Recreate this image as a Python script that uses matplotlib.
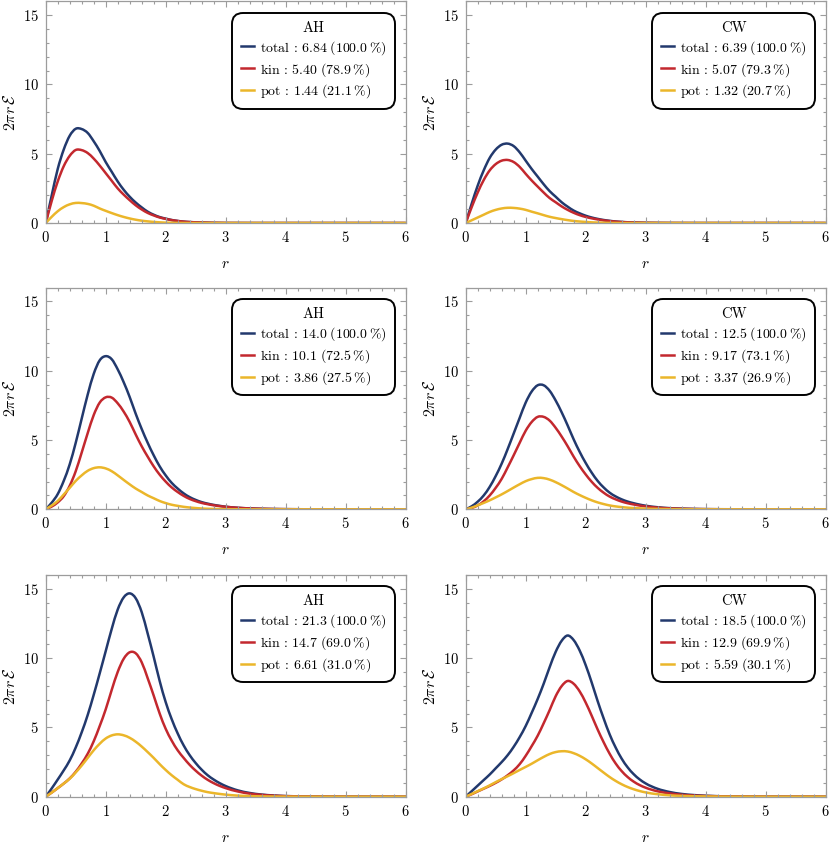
"""
Radial energy density profiles, AH vs CW.
"""

import matplotlib

matplotlib.use("Agg")

import matplotlib.pyplot as plt
import numpy as np
from matplotlib.lines import Line2D
from matplotlib.patches import PathPatch
from matplotlib.path import Path
from matplotlib.ticker import MultipleLocator


plt.rcParams["font.family"] = "cmr10"
plt.rcParams["mathtext.fontset"] = "cm"
plt.rcParams["axes.formatter.use_mathtext"] = True


# sample radii shared by every curve
R = [
    0.0, 0.1, 0.2, 0.3, 0.4, 0.5, 0.6, 0.7, 0.8, 0.9,
    1.0, 1.1, 1.2, 1.3, 1.4, 1.5, 1.6, 1.7, 1.8, 1.9,
    2.0, 2.1, 2.2, 2.3, 2.4, 2.5, 2.6, 2.7, 2.8, 2.9,
    3.0, 3.2, 3.4, 3.6, 3.8, 4.0, 4.5, 5.0, 6.0,
]

# row 1
AH1_TOTAL = [
    0, 2.0, 3.9, 5.3, 6.3, 6.8, 6.78, 6.5, 5.9, 5.2,
    4.4, 3.7, 3.0, 2.4, 1.9, 1.48, 1.13, 0.82, 0.6, 0.43,
    0.32, 0.22, 0.15, 0.1, 0.07, 0.05, 0.035, 0.025, 0.015, 0.01,
    0.005, 0.003, 0.001, 0, 0, 0, 0, 0, 0,
]
AH1_KIN = [
    0, 1.6, 3.0, 4.1, 4.85, 5.27, 5.26, 5.05, 4.65, 4.15,
    3.6, 3.05, 2.5, 2.05, 1.65, 1.28, 0.98, 0.73, 0.55, 0.4,
    0.3, 0.21, 0.15, 0.1, 0.07, 0.05, 0.035, 0.025, 0.015, 0.01,
    0.005, 0.003, 0.001, 0, 0, 0, 0, 0, 0,
]
AH1_POT = [
    0, 0.45, 0.85, 1.15, 1.35, 1.45, 1.44, 1.38, 1.25, 1.05,
    0.88, 0.72, 0.57, 0.44, 0.33, 0.24, 0.17, 0.12, 0.08, 0.05,
    0.03, 0.02, 0.01, 0.005, 0, 0, 0, 0, 0, 0,
    0, 0, 0, 0, 0, 0, 0, 0, 0,
]

CW1_TOTAL = [
    0, 1.4, 2.7, 3.8, 4.7, 5.3, 5.65, 5.73, 5.55, 5.1,
    4.5, 3.9, 3.35, 2.8, 2.3, 1.9, 1.5, 1.18, 0.9, 0.7,
    0.53, 0.4, 0.3, 0.22, 0.16, 0.11, 0.08, 0.055, 0.04, 0.028,
    0.02, 0.01, 0.005, 0.002, 0.001, 0, 0, 0, 0,
]
CW1_KIN = [
    0, 1.15, 2.2, 3.1, 3.8, 4.25, 4.5, 4.55, 4.4, 4.05,
    3.55, 3.07, 2.63, 2.2, 1.8, 1.5, 1.2, 0.95, 0.74, 0.57,
    0.44, 0.34, 0.26, 0.19, 0.14, 0.1, 0.07, 0.05, 0.035, 0.025,
    0.015, 0.008, 0.004, 0.002, 0.001, 0, 0, 0, 0,
]
CW1_POT = [
    0, 0.2, 0.4, 0.6, 0.8, 0.95, 1.05, 1.1, 1.09, 1.04,
    0.95, 0.82, 0.7, 0.57, 0.45, 0.36, 0.28, 0.21, 0.15, 0.11,
    0.08, 0.05, 0.035, 0.02, 0.01, 0.005, 0, 0, 0, 0,
    0, 0, 0, 0, 0, 0, 0, 0, 0,
]

# row 2
AH2_TOTAL = [
    0, 0.48, 1.1, 2.05, 3.25, 4.8, 6.55, 8.28, 9.77, 10.75,
    11.05, 10.83, 10.1, 9.17, 8.1, 6.9, 5.8, 4.8, 3.9, 3.1,
    2.45, 1.91, 1.5, 1.15, 0.88, 0.68, 0.52, 0.41, 0.32, 0.25,
    0.19, 0.11, 0.065, 0.038, 0.022, 0.012, 0.003, 0.001, 0,
]
AH2_KIN = [
    0, 0.2, 0.5, 0.95, 1.7, 2.75, 4.1, 5.5, 6.8, 7.7,
    8.08, 8.06, 7.65, 7.05, 6.3, 5.4, 4.55, 3.8, 3.1, 2.5,
    2.0, 1.58, 1.25, 0.97, 0.75, 0.59, 0.46, 0.37, 0.29, 0.23,
    0.18, 0.11, 0.065, 0.038, 0.022, 0.012, 0.003, 0.001, 0,
]
AH2_POT = [
    0, 0.28, 0.6, 1.07, 1.55, 2.05, 2.45, 2.78, 2.97, 3.03,
    2.95, 2.75, 2.45, 2.12, 1.8, 1.5, 1.25, 1.0, 0.8, 0.6,
    0.45, 0.33, 0.25, 0.18, 0.13, 0.09, 0.06, 0.04, 0.03, 0.02,
    0.01, 0.005, 0, 0, 0, 0, 0, 0, 0,
]

CW2_TOTAL = [
    0, 0.22, 0.55, 1.0, 1.62, 2.4, 3.3, 4.35, 5.47, 6.6,
    7.7, 8.5, 8.95, 8.95, 8.55, 7.85, 7.0, 6.05, 5.05, 4.15,
    3.35, 2.65, 2.05, 1.58, 1.2, 0.93, 0.72, 0.56, 0.44, 0.34,
    0.26, 0.15, 0.085, 0.05, 0.028, 0.015, 0.004, 0.001, 0,
]
CW2_KIN = [
    0, 0.1, 0.28, 0.58, 1.0, 1.55, 2.2, 3.03, 3.9, 4.8,
    5.67, 6.3, 6.67, 6.67, 6.4, 5.88, 5.25, 4.55, 3.8, 3.12,
    2.52, 1.99, 1.55, 1.2, 0.92, 0.72, 0.56, 0.44, 0.35, 0.27,
    0.21, 0.12, 0.07, 0.04, 0.023, 0.013, 0.003, 0.001, 0,
]
CW2_POT = [
    0, 0.12, 0.29, 0.46, 0.65, 0.86, 1.08, 1.32, 1.57, 1.81,
    2.03, 2.18, 2.27, 2.25, 2.14, 1.96, 1.74, 1.5, 1.25, 1.03,
    0.83, 0.65, 0.5, 0.38, 0.28, 0.21, 0.16, 0.12, 0.09, 0.07,
    0.05, 0.03, 0.015, 0.008, 0.004, 0.002, 0, 0, 0,
]

# row 3
AH3_TOTAL = [
    0, 0.6, 1.24, 1.9, 2.62, 3.55, 4.65, 5.9, 7.35, 8.9,
    10.5, 12.1, 13.5, 14.38, 14.67, 14.32, 13.32, 11.77, 10.1, 8.35,
    6.83, 5.6, 4.57, 3.7, 3.0, 2.43, 1.95, 1.55, 1.24, 0.98,
    0.77, 0.46, 0.27, 0.155, 0.088, 0.047, 0.012, 0.002, 0,
]
AH3_KIN = [
    0, 0.3, 0.62, 0.95, 1.32, 1.8, 2.4, 3.1, 4.0, 5.1,
    6.3, 7.7, 9.0, 9.95, 10.42, 10.35, 9.7, 8.55, 7.3, 6.0,
    4.9, 4.05, 3.35, 2.8, 2.3, 1.88, 1.52, 1.22, 0.98, 0.78,
    0.62, 0.38, 0.22, 0.13, 0.075, 0.04, 0.01, 0.002, 0,
]
AH3_POT = [
    0, 0.3, 0.62, 0.95, 1.3, 1.75, 2.25, 2.8, 3.35, 3.82,
    4.2, 4.42, 4.5, 4.43, 4.25, 3.97, 3.62, 3.22, 2.8, 2.35,
    1.93, 1.55, 1.22, 0.9, 0.7, 0.55, 0.43, 0.33, 0.26, 0.2,
    0.15, 0.08, 0.045, 0.025, 0.013, 0.007, 0.002, 0, 0,
]

CW3_TOTAL = [
    0, 0.4, 0.8, 1.2, 1.6, 2.05, 2.5, 3.0, 3.6, 4.3,
    5.1, 6.05, 7.05, 8.15, 9.35, 10.45, 11.25, 11.63, 11.3, 10.55,
    9.5, 8.25, 6.9, 5.65, 4.5, 3.55, 2.75, 2.12, 1.63, 1.25,
    0.96, 0.57, 0.34, 0.2, 0.12, 0.07, 0.017, 0.004, 0,
]
CW3_KIN = [
    0, 0.18, 0.38, 0.58, 0.78, 1.0, 1.25, 1.55, 1.9, 2.35,
    2.95, 3.65, 4.4, 5.3, 6.25, 7.25, 7.98, 8.35, 8.15, 7.6,
    6.8, 5.85, 4.85, 3.93, 3.1, 2.4, 1.85, 1.42, 1.09, 0.84,
    0.65, 0.39, 0.24, 0.14, 0.085, 0.05, 0.012, 0.003, 0,
]
CW3_POT = [
    0, 0.2, 0.4, 0.6, 0.82, 1.05, 1.27, 1.48, 1.7, 1.93,
    2.15, 2.38, 2.63, 2.87, 3.08, 3.22, 3.28, 3.26, 3.14, 2.95,
    2.7, 2.4, 2.07, 1.74, 1.42, 1.14, 0.9, 0.7, 0.54, 0.41,
    0.31, 0.18, 0.1, 0.06, 0.035, 0.02, 0.005, 0.001, 0,
]

# integrated energies and shares shown in the legends (total, kin, pot)
AH_ENERGIES = [
    ["6.84", "5.40", "1.44"],
    ["14.0", "10.1", "3.86"],
    ["21.3", "14.7", "6.61"],
]
AH_SHARES = [
    ["100.0", "78.9", "21.1"],
    ["100.0", "72.5", "27.5"],
    ["100.0", "69.0", "31.0"],
]
CW_ENERGIES = [
    ["6.39", "5.07", "1.32"],
    ["12.5", "9.17", "3.37"],
    ["18.5", "12.9", "5.59"],
]
CW_SHARES = [
    ["100.0", "79.3", "20.7"],
    ["100.0", "73.1", "26.9"],
    ["100.0", "69.9", "30.1"],
]

PARTS = ["total", "kin", "pot"]
COLORS = ["#22396d", "#c3282e", "#ebb62a"]
FRAME_GRAY = "#9c9c9c"
LINE_WIDTH = 1.8

# axes boxes in figure fractions
COLUMN_LEFT = [0.0551, 0.5611]
COLUMN_WIDTH = 0.4335
ROW_BOTTOM = [0.7373, 0.4001, 0.0616]
ROW_HEIGHT = 0.2612


def smooth_curve(xs, ys):
    """
    Bezier path through the sampled points (Catmull-Rom style tangents),
    so the line passes through every value with rounded peaks.
    """

    x = np.asarray(xs, dtype=float)
    y = np.asarray(ys, dtype=float)
    h = np.diff(x)
    d = np.diff(y) / h

    m = np.empty_like(y)
    m[0] = d[0]
    m[-1] = d[-1]
    m[1:-1] = (d[:-1] * h[1:] + d[1:] * h[:-1]) / (h[:-1] + h[1:])

    vertices = [(x[0], y[0])]
    codes = [Path.MOVETO]

    for i in range(len(y) - 1):
        step = h[i] / 3
        vertices += [
            (x[i] + step, y[i] + m[i] * step),
            (x[i + 1] - step, y[i + 1] - m[i + 1] * step),
            (x[i + 1], y[i + 1]),
        ]
        codes += [Path.CURVE4] * 3

    return Path(vertices, codes)


def draw_panel(ax, model, series, energies, shares):
    """
    Draw the three energy curves of one panel with its legend.
    """

    handles = []
    labels = []

    for part, values, energy, share, color in zip(
        PARTS, series, energies, shares, COLORS,
    ):
        ax.add_patch(
            PathPatch(
                smooth_curve(R, values),
                facecolor="none",
                edgecolor=color,
                linewidth=LINE_WIDTH,
                capstyle="round",
                joinstyle="round",
            )
        )
        handles.append(
            Line2D([], [], color=color, linewidth=LINE_WIDTH)
        )
        labels.append(
            f"{part} : {energy}$\\;$({share}$\\:$%)"
        )

    ax.set_xlim(0, 6)
    ax.set_ylim(0, 16)

    ax.xaxis.set_major_locator(MultipleLocator(1))
    ax.xaxis.set_minor_locator(MultipleLocator(0.2))
    ax.yaxis.set_major_locator(MultipleLocator(5))
    ax.yaxis.set_minor_locator(MultipleLocator(1))

    ax.tick_params(
        which="both",
        direction="in",
        top=True,
        right=True,
        color=FRAME_GRAY,
        width=0.8,
        labelsize=10.5,
    )
    ax.tick_params(which="major", length=4.5, pad=5)
    ax.tick_params(which="minor", length=2.5)

    for spine in ax.spines.values():
        spine.set_color(FRAME_GRAY)
        spine.set_linewidth(0.9)

    ax.set_xlabel("$r$", fontsize=11)
    ax.set_ylabel("$2\\pi r\\,\\mathcal{E}$", fontsize=11.5)
    ax.xaxis.set_label_coords(0.5, -0.155)
    ax.yaxis.set_label_coords(-0.078, 0.5)

    legend = ax.legend(
        handles,
        labels,
        title=model,
        loc="upper right",
        bbox_to_anchor=(0.972, 0.949),
        borderaxespad=0,
        fontsize=10,
        title_fontsize=10.5,
        handlelength=0.95,
        handletextpad=0.45,
        labelspacing=0.3,
        borderpad=0.6,
        fancybox=True,
        framealpha=1,
    )
    frame = legend.get_frame()
    frame.set_edgecolor("black")
    frame.set_linewidth(1.4)
    frame.set_boxstyle("round,pad=0,rounding_size=0.8")


fig = plt.figure(figsize=(8.3, 8.49), dpi=100)

panels = [
    ([AH1_TOTAL, AH1_KIN, AH1_POT], [CW1_TOTAL, CW1_KIN, CW1_POT]),
    ([AH2_TOTAL, AH2_KIN, AH2_POT], [CW2_TOTAL, CW2_KIN, CW2_POT]),
    ([AH3_TOTAL, AH3_KIN, AH3_POT], [CW3_TOTAL, CW3_KIN, CW3_POT]),
]

for row, (ah_series, cw_series) in enumerate(panels):

    ax_left = fig.add_axes(
        [COLUMN_LEFT[0], ROW_BOTTOM[row], COLUMN_WIDTH, ROW_HEIGHT]
    )
    draw_panel(
        ax_left, "AH", ah_series, AH_ENERGIES[row], AH_SHARES[row],
    )

    ax_right = fig.add_axes(
        [COLUMN_LEFT[1], ROW_BOTTOM[row], COLUMN_WIDTH, ROW_HEIGHT]
    )
    draw_panel(
        ax_right, "CW", cw_series, CW_ENERGIES[row], CW_SHARES[row],
    )

fig.savefig("out.png", dpi=100)
plt.close(fig)
